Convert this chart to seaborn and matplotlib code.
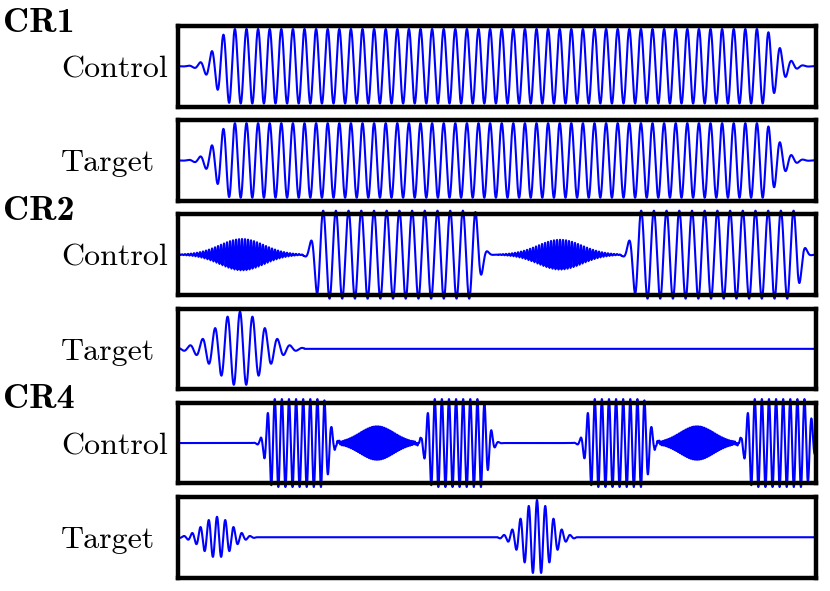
import matplotlib
matplotlib.use("Agg")
import matplotlib.pyplot as plt
import numpy as np
import pandas as pd
import seaborn as sns

sns.set_style("white")

groups = ["CR1", "CR2", "CR4"]
channels = ["Control", "Target"]

# every panel shares one time axis (arbitrary units)
t_end = 638.0

# flat-top pulses: panel, full-amplitude start / end, edge sigma, amplitude, carrier period
flat_panel = [0, 1, 2, 2, 4, 4, 4, 4]
flat_on = [54, 54, 142, 460, 95, 255, 415, 575]
flat_off = [584, 584, 296, 616, 145, 304, 465, 627]
flat_edge = [15, 15, 6, 6, 6, 6, 6, 6]
flat_amp = [1.0, 1.0, 1.18, 1.18, 1.18, 1.18, 1.18, 1.18]
flat_period = [11.6, 11.6, 12.7, 12.7, 7.1, 7.1, 7.1, 7.1]

# gaussian pulses: panel, centre, sigma, amplitude, carrier period
gauss_panel = [2, 2, 3, 4, 4, 5, 5]
gauss_center = [64, 382, 62, 199, 519, 39, 359]
gauss_sigma = [22, 22, 23, 17, 17, 14, 14]
gauss_amp = [0.42, 0.4, 1.0, 0.45, 0.45, 0.55, 1.0]
gauss_period = [3.0, 3.0, 12.5, 1.8, 1.8, 8.3, 8.3]


def build_signal(panel, t):
    y = np.zeros_like(t)
    for p, on, off, s, a, per in zip(flat_panel, flat_on, flat_off, flat_edge, flat_amp, flat_period):
        if p != panel:
            continue
        env = np.ones_like(t)
        env[t < on] = np.exp(-(t[t < on] - on) ** 2 / (2 * s ** 2))
        env[t > off] = np.exp(-(t[t > off] - off) ** 2 / (2 * s ** 2))
        y += a * env * np.sin(2 * np.pi * (t - on) / per)
    for p, c, s, a, per in zip(gauss_panel, gauss_center, gauss_sigma, gauss_amp, gauss_period):
        if p != panel:
            continue
        env = np.exp(-(t - c) ** 2 / (2 * s ** 2)) * (np.abs(t - c) <= 2.8 * s)
        y += a * env * np.cos(2 * np.pi * (t - c) / per)
    return y


W, H = 830, 591
fig = plt.figure(figsize=(W / 100, H / 100), dpi=100)

t = np.linspace(0, t_end, 14000)
left_px, width_px = 178, 638
panel_h = 80.5

for i in range(6):
    top_px = 26 + 94.2 * i
    ax = fig.add_axes([left_px / W, 1 - (top_px + panel_h) / H, width_px / W, panel_h / H])
    df = pd.DataFrame({"t": t, "signal": build_signal(i, t)})
    sns.lineplot(data=df, x="t", y="signal", ax=ax, color="#0000ff", linewidth=1.5,
                 estimator=None, sort=False, legend=False, clip_on=False)
    ax.set_xlim(0, t_end)
    ax.set_ylim(-1.08, 1.08)
    ax.set_xticks([])
    ax.set_yticks([])
    ax.set_xlabel("")
    ax.set_ylabel("")
    for sp in ax.spines.values():
        sp.set_visible(True)
        sp.set_linewidth(3.2)
        sp.set_color("black")

    # channel name, left of the box
    base = top_px + panel_h / 2 + 11
    fig.text(61 / W, 1 - base / H, channels[i % 2], family="cmr10", fontsize=23,
             va="baseline", ha="left", color="black")
    if i % 2 == 0:
        fig.text(3 / W, 1 - (top_px + 5.5) / H, groups[i // 2], family="cmb10",
                 fontsize=26, va="baseline", ha="left", color="black")

fig.savefig("out.png", dpi=100)
